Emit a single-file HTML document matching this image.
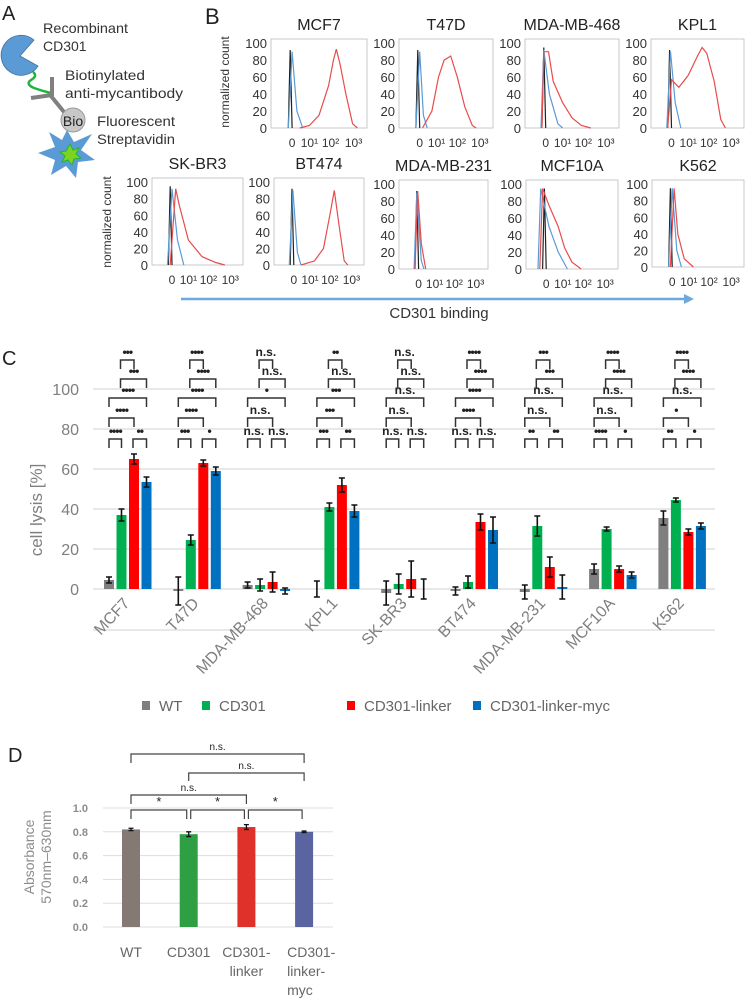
<!DOCTYPE html>
<html><head><meta charset="utf-8"><style>
body{margin:0;background:#fff}
svg{display:block;font-family:"Liberation Sans",sans-serif}
</style></head><body>
<svg id="fig" width="747" height="1006" viewBox="0 0 747 1006">
<!-- Panel A -->
<g>
<text x="2" y="20" font-size="20" fill="#222">A</text>
<path d="M20,56 L34,40 A20,20 0 1 0 38,66 Z" fill="#5b9bd5" stroke="#41719c" stroke-width="0.8"/>
<path d="M33,72 q5,4 -2,8 q-6,4 3,8 q8,3 17,5" fill="none" stroke="#1eb53a" stroke-width="2.5"/>
<path d="M52,77 L52,96 M31,98 L52,95 M51,96 L64,112" fill="none" stroke="#808080" stroke-width="4"/>
<circle cx="73" cy="120" r="12" fill="#c8c8c8" stroke="#999"/>
<text x="73" y="126" font-size="14" text-anchor="middle" fill="#222">Bio</text>
<path d="M67,130 L74,142 L92,134 L81,150 L95,160 L78,162 L76,178 L66,166 L51,175 L55,160 L38,153 L55,147 L49,132 L62,140 Z" fill="#5b9bd5"/>
<path d="M70,144 L73,150 L79,148 L76,154 L81,158 L74,159 L72,165 L68,160 L62,162 L65,156 L60,152 L66,151 Z" fill="#7ed320" stroke="#1eb53a"/>
<g font-size="14" fill="#333">
<text x="43" y="33" textLength="85" lengthAdjust="spacingAndGlyphs">Recombinant</text><text x="43" y="51">CD301</text>
<text x="65" y="80" textLength="80" lengthAdjust="spacingAndGlyphs">Biotinylated</text><text x="65" y="98" textLength="118" lengthAdjust="spacingAndGlyphs">anti-mycantibody</text>
<text x="97" y="126" textLength="78" lengthAdjust="spacingAndGlyphs">Fluorescent</text><text x="97" y="144" textLength="78" lengthAdjust="spacingAndGlyphs">Streptavidin</text>
</g>
</g>
<text x="205" y="24" font-size="22" fill="#222">B</text>
<g id="histos"></g>
<line x1="181" y1="299" x2="688" y2="299" stroke="#6fa8dc" stroke-width="2.5"/>
<path d="M684,294 L694,299 L684,304 Z" fill="#6fa8dc"/>
<text x="439" y="318" font-size="15" text-anchor="middle" fill="#333">CD301 binding</text>
<!-- Panel C -->
<text x="2" y="365" font-size="20" fill="#222">C</text>
<g id="chartC"></g>
<g id="legend"></g>
<!-- Panel D -->
<text x="8" y="762" font-size="20" fill="#222">D</text>
<g id="chartD"></g>
</svg>
<script>
const NS="http://www.w3.org/2000/svg";
function mk(tag,attrs,parent,txt){const e=document.createElementNS(NS,tag);for(const k in attrs)e.setAttribute(k,attrs[k]);if(txt!==undefined)e.textContent=txt;parent.appendChild(e);return e;}

// ===== Panel B data =====
const histNames=["MCF7","T47D","MDA-MB-468","KPL1","SK-BR3","BT474","MDA-MB-231","MCF10A","K562"];
const histRed=[
 [[0.3,0],[0.4,3],[0.5,15],[0.6,50],[0.65,80],[0.68,93],[0.72,75],[0.78,40],[0.85,5],[0.9,0]],
 [[0.25,0],[0.35,20],[0.42,60],[0.48,80],[0.55,85],[0.62,60],[0.7,25],[0.78,3],[0.82,0]],
 [[0.18,0],[0.2,90],[0.25,90],[0.3,55],[0.4,30],[0.5,12],[0.6,3],[0.7,0]],
 [[0.18,0],[0.22,57],[0.3,48],[0.4,62],[0.5,85],[0.55,95],[0.6,88],[0.68,55],[0.75,10],[0.8,0]],
 [[0.2,0],[0.26,92],[0.3,72],[0.4,30],[0.55,10],[0.7,3],[0.8,0]],
 [[0.3,0],[0.45,5],[0.55,20],[0.62,60],[0.67,90],[0.72,50],[0.78,5],[0.82,0]],
 [[0.18,0],[0.21,92],[0.25,30],[0.3,0]],
 [[0.15,0],[0.18,95],[0.25,75],[0.35,50],[0.42,25],[0.5,8],[0.6,0]],
 [[0.2,0],[0.24,95],[0.28,40],[0.35,10],[0.45,0]]
];
const histBlue=[
 [[0.18,0],[0.22,90],[0.27,20],[0.33,0]],
 [[0.18,0],[0.22,90],[0.26,15],[0.3,0]],
 [[0.17,0],[0.2,92],[0.26,40],[0.35,5],[0.4,0]],
 [[0.17,0],[0.21,90],[0.26,30],[0.32,0]],
 [[0.17,0],[0.22,92],[0.28,30],[0.35,0]],
 [[0.17,0],[0.21,90],[0.26,15],[0.3,0]],
 [[0.17,0],[0.2,90],[0.25,10],[0.28,0]],
 [[0.13,0],[0.16,95],[0.25,50],[0.35,20],[0.45,0]],
 [[0.18,0],[0.22,95],[0.27,20],[0.32,0]]
];
const histBlackPeak=[92,92,95,92,95,92,92,95,95];
const histYTicks=[0,20,40,60,80,100];
const histXTicks=["0","10¹","10²","10³"];
const histXTickFrac=[0.22,0.4,0.62,0.86];
const frames=[[271,39,96,89],[399,39,94,89],[525,39,94,89],[651,39,93,89],[152,178,91,87],[274,178,90,87],[399,180,89,89],[526,180,92,89],[652,180,92,87]];
(function(){
 const g=document.getElementById('histos');
 histNames.forEach((nm,i)=>{
  const [x,y,w,h]=frames[i];
  const p=mk('g',{},g);
  
  
  const t=mk('text',{x:x+w/2,y:y-9,'font-size':16,'text-anchor':'middle',fill:'#222'},p,nm);
  
  
  mk('rect',{x:x,y:y,width:w,height:h,fill:'none',stroke:'#bbb','stroke-width':0.8},p);
  const ys=v=>y+h-v/105*h;
  histYTicks.forEach(v=>mk('text',{x:x-4,y:ys(v)+5,'font-size':13,'text-anchor':'end',fill:'#333'},p,String(v)));
  histXTicks.forEach((s,k)=>mk('text',{x:x+histXTickFrac[k]*w,y:y+h+19,'font-size':12,'text-anchor':'middle',fill:'#333'},p,s));
  const pts=a=>a.map(q=>(x+q[0]*w).toFixed(1)+','+ys(q[1]).toFixed(1)).join(' ');
  mk('polyline',{points:pts([[0.18,0],[0.2,histBlackPeak[i]],[0.22,0]]),fill:'none',stroke:'#222','stroke-width':1.2},p);
  mk('polyline',{points:pts(histBlue[i]),fill:'none',stroke:'#5b9bd5','stroke-width':1.2},p);
  mk('polyline',{points:pts(histRed[i]),fill:'none',stroke:'#e84c4c','stroke-width':1.2},p);
 });
 [[229,82],[111,222]].forEach(c=>{
  const t=mk('text',{x:c[0],y:c[1],'font-size':12,'text-anchor':'middle',fill:'#333',transform:`rotate(-90 ${c[0]} ${c[1]})`},g,'normalized count');
  
  
 });
})();

// ===== Panel C data =====
const cellLines=["MCF7","T47D","MDA-MB-468","KPL1","SK-BR3","BT474","MDA-MB-231","MCF10A","K562"];
const seriesNames=["WT","CD301","CD301-linker","CD301-linker-myc"];
const wtVals=[4.5,-1,2,0,-2,-1,-1.5,10,35.5];
const cd301Vals=[37,24.5,2,41,2.5,3.5,31.5,30,44.5];
const linkerVals=[65,63,3.5,52,5,33.5,11,10,28.5];
const mycVals=[53.5,59,-1,39,0,29.5,1,7,31.5];
const wtErr=[1.5,7,1.5,4,6,2,3.5,2.5,3.5];
const cd301Err=[3,2.5,3,2,5,3,5,1,1];
const linkerErr=[2.5,1.5,5,3.5,9,4,5,1.5,1.5];
const mycErr=[2.5,2,1.5,3,5,6.5,6,1.5,1.5];
const cTicks=[0,20,40,60,80,100];
const sigRow1=["•••","••••","n.s.","••","n.s.","••••","•••","••••","••••"];
const sigRow2=["•••","••••","n.s.","n.s.","n.s.","••••","•••","••••","••••"];
const sigRow3=["••••","••••","•","•••","n.s.","••••","n.s.","n.s.","n.s."];
const sigRow4=["••••","••••","n.s.","•••","n.s.","••••","n.s.","n.s.","•"];
const sigRow5a=["••••","•••","n.s.","•••","n.s.","n.s.","••","••••","••"];
const sigRow5b=["••","•","n.s.","••","n.s.","n.s.","••","•","•"];
const colorsC=["#7f7f7f","#00b050","#ff0000","#0070c0"];
(function(){
 const g=document.getElementById('chartC');
 const yC=v=>589-v*2;
 const xC=(gi,si)=>109+gi*69.3+si*12.5;
 cTicks.forEach(v=>{
  const l=mk('line',{x1:93,x2:715,y1:yC(v),y2:yC(v),stroke:'#d9d9d9','stroke-width':1.2},g);
  
  
  mk('text',{x:79,y:yC(v)+6,'font-size':16,'text-anchor':'end',fill:'#7f7f7f'},g,String(v));
 });
 mk('line',{x1:93,x2:715,y1:630,y2:630,stroke:'#d9d9d9','stroke-width':1.2},g);
 const yt=mk('text',{x:42,y:510,'font-size':17,'text-anchor':'middle',fill:'#7f7f7f',transform:'rotate(-90 42 510)'},g,'cell lysis [%]');
 
 
 const vals=[wtVals,cd301Vals,linkerVals,mycVals], errs=[wtErr,cd301Err,linkerErr,mycErr];
 cellLines.forEach((cl,gi)=>{
  vals.forEach((arr,si)=>{
   const v=arr[gi],cx=xC(gi,si);
   const r=mk('rect',{x:cx-5,y:Math.min(yC(v),yC(0)),width:10,height:Math.abs(yC(v)-yC(0)),fill:colorsC[si]},g);
   
   
   const e=errs[si][gi];
   mk('path',{d:`M${cx},${yC(v+e)} V${yC(v-e)} M${cx-3},${yC(v+e)} h6 M${cx-3},${yC(v-e)} h6`,stroke:'#111','stroke-width':1.6,fill:'none'},g);
  });
  const ax=xC(gi,1)+9;
  const lab=mk('text',{x:ax,y:604,'font-size':16,'text-anchor':'end',fill:'#7f7f7f',transform:`rotate(-47 ${ax} 604)`},g,cl);
  
  
  const br=(a,b,top,txt)=>{
   const x1=xC(gi,a)+(a?-1:0),x2=xC(gi,b);
   mk('path',{d:`M${x1},${top+9} V${top} H${x2} V${top+9}`,stroke:'#333','stroke-width':1.5,fill:'none'},g);
   const s=mk('text',{x:(x1+x2)/2,y:top-4,'font-size':12,'text-anchor':'middle',fill:'#222','font-weight':'bold','letter-spacing':txt==='n.s.'?0:-1},g,txt);
   
   
  };
  br(1,2,360,sigRow1[gi]);
  br(1,3,379,sigRow2[gi]);
  br(0,3,398,sigRow3[gi]);
  br(0,2,418,sigRow4[gi]);
  br(0,1,439,sigRow5a[gi]);
  br(2,3,439,sigRow5b[gi]);
 });
 const lg=document.getElementById('legend');
 const lx=[142,202,347,473];
 seriesNames.forEach((n,i)=>{
  const it=mk('g',{},lg);
  
  
  mk('rect',{x:lx[i],y:701,width:8,height:9,fill:colorsC[i]},it);
  mk('text',{x:lx[i]+17,y:711,'font-size':15,fill:'#666'},it,n);
 });
})();

// ===== Panel D data =====
const dCats=["WT","CD301","CD301-linker","CD301-linker-myc"];
const dVals=[0.82,0.78,0.84,0.80];
const dErr=[0.01,0.02,0.02,0.006];
const dTicks=[0,0.2,0.4,0.6,0.8,1.0];
const dColors=["#857a73","#2ea043","#e0302a","#5a64a0"];
(function(){
 const g=document.getElementById('chartD');
 const yD=v=>927-v*119;
 const xD=i=>131+i*57.7;
 dTicks.forEach(v=>{
  const l=mk('line',{x1:103,x2:333,y1:yD(v),y2:yD(v),stroke:'#ddd'},g);
  
  
  mk('text',{x:88,y:yD(v)+4,'font-size':11,'font-weight':'bold','text-anchor':'end',fill:'#8c8c8c'},g,v.toFixed(1));
 });
 const yt=mk('text',{x:34,y:857,'font-size':14,'text-anchor':'middle',fill:'#8c8c8c',transform:'rotate(-90 34 857)'},g,'');
 mk('tspan',{x:34,dy:0},yt,'Absorbance');
 mk('tspan',{x:34,dy:17},yt,'570nm–630nm');
 
 
 dVals.forEach((v,i)=>{
  const r=mk('rect',{x:xD(i)-9,y:yD(v),width:18,height:yD(0)-yD(v),fill:dColors[i]},g);
  
  
  const e=dErr[i],cx=xD(i);
  mk('path',{d:`M${cx},${yD(v+e)} V${yD(v-e)} M${cx-2.5},${yD(v+e)} h5 M${cx-2.5},${yD(v-e)} h5`,stroke:'#111','stroke-width':1.3,fill:'none'},g);
 });
 const labs=[["WT"],["CD301"],["CD301-","linker"],["CD301-","linker-","myc"]];
 labs.forEach((ls,i)=>{
  const t=mk('text',{x:i==3?xD(i)-17:xD(i),y:957,'font-size':14,fill:'#666','text-anchor':i==3?'start':'middle'},g,'');
  ls.forEach((s,k)=>mk('tspan',{x:i==3?xD(i)-17:xD(i),dy:k?19:0},t,s));
  
  
 });
 const br=(a,b,top,leg,txt)=>{
  const x1=xD(a)+(a>0&&top>805?2:0),x2=xD(b)-(top>805?2:0);
  mk('path',{d:`M${x1},${top+leg} V${top} H${x2} V${top+leg}`,stroke:'#444','stroke-width':1.2,fill:'none'},g);
  const s=mk('text',{x:(x1+x2)/2,y:top-4,'font-size':txt==='*'?13:10,'text-anchor':'middle',fill:'#222'},g,txt);
  
  
 };
 br(0,3,754,9,'n.s.');
 br(1,3,773,8,'n.s.');
 br(0,2,795,9,'n.s.');
 br(0,1,810,9,'*');
 br(1,2,810,9,'*');
 br(2,3,810,9,'*');
})();
</script>
</body></html>
